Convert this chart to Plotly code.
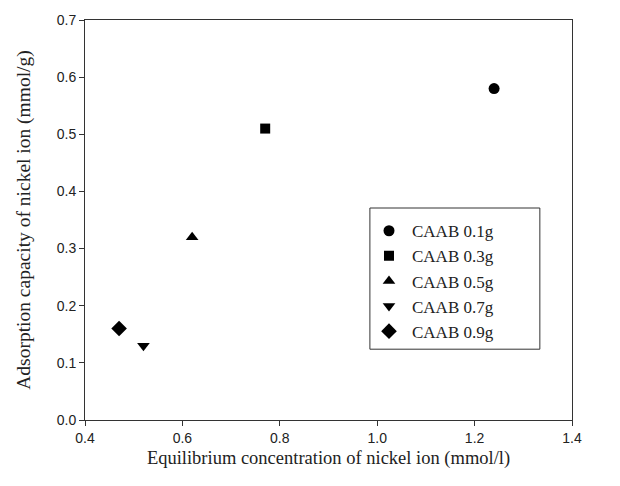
import plotly.graph_objects as go

names = ["CAAB 0.1g", "CAAB 0.3g", "CAAB 0.5g", "CAAB 0.7g", "CAAB 0.9g"]
x_vals = [1.24, 0.77, 0.62, 0.52, 0.47]
y_vals = [0.58, 0.51, 0.32, 0.13, 0.16]
symbols = ["circle", "square", "triangle-up", "triangle-down", "diamond"]
sizes = [11, 10, 11, 11, 12]

fig = go.Figure()
for n, x, y, s, sz in zip(names, x_vals, y_vals, symbols, sizes):
    fig.add_trace(go.Scatter(x=[x], y=[y], mode="markers", name=n,
                             marker=dict(symbol=s, size=sz, color="black")))

axis_common = dict(showline=True, linecolor="#333", linewidth=1, mirror=True,
                   ticks="outside", ticklen=5, tickcolor="#333", showgrid=False,
                   zeroline=False, tickfont=dict(family="Liberation Sans, Arial", size=14, color="#222"))

title_font = dict(family="Liberation Serif, Times New Roman", size=18.5, color="#222")

fig.update_layout(
    width=620, height=486,
    margin=dict(l=85, r=48, t=18, b=66),
    paper_bgcolor="white", plot_bgcolor="white",
    xaxis=dict(range=[0.4, 1.4], dtick=0.2, tickformat=".1f",
               title=dict(text="Equilibrium concentration of nickel ion (mmol/l)",
                          font=title_font, standoff=6),
               **axis_common),
    yaxis=dict(range=[0, 0.7], dtick=0.1, tickformat=".1f",
               title=dict(text="Adsorption capacity of nickel ion (mmol/g)",
                          font=dict(title_font, size=19.5), standoff=20),
               **axis_common),
    legend=dict(x=0.577, y=0.517, xanchor="left", yanchor="top",
                borderwidth=0, bgcolor="rgba(0,0,0,0)",
                font=dict(family="Liberation Serif, Times New Roman", size=17, color="#222"),
                tracegroupgap=0, itemwidth=36),
    shapes=[dict(type="rect", xref="paper", yref="paper",
                 x0=0.585, x1=0.934, y0=0.177, y1=0.530,
                 line=dict(color="#333", width=1), fillcolor="rgba(0,0,0,0)")],
    showlegend=True,
)

fig.write_html("out.html")
